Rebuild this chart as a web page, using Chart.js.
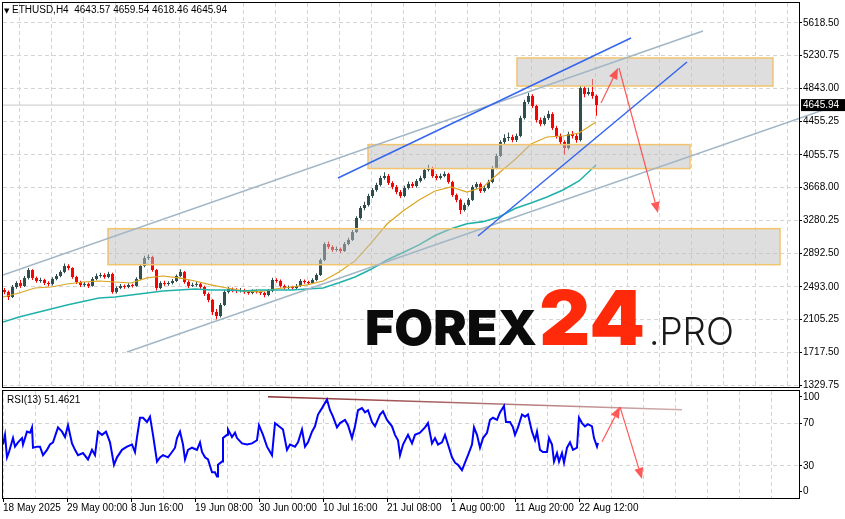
<!DOCTYPE html>
<html>
<head>
<meta charset="utf-8">
<script src="https://cdn.jsdelivr.net/npm/chart.js@4.4.1/dist/chart.umd.min.js"></script>
<style>
  html, body { margin: 0; padding: 0; background: #fff; }
  #wrap { position: relative; width: 845px; height: 519px; overflow: hidden; background: #fff; }
  canvas { position: absolute; left: 0; }
  #main { top: 0; }
  #rsi { top: 388px; }
</style>
</head>
<body>
<div id="wrap">
  <canvas id="main" width="845" height="388"></canvas>
  <canvas id="rsi" width="845" height="131"></canvas>
</div>
<script>
// ETHUSD H4, one candle here = 4 H4 bars, x axis = bar number (1 px per bar)
const firstOpen = 2455;
const closes = [
  2432,2372,2491,2538,2503,2598,2692,2598,2562,2574,
  2538,2526,2586,2621,2669,2740,2716,2609,2550,2515,
  2526,2503,2586,2621,2633,2609,2645,2432,2479,2503,
  2491,2515,2503,2586,2740,2834,2846,2692,2479,2538,
  2526,2538,2562,2621,2669,2550,2503,2515,2526,2491,
  2408,2337,2195,2147,2278,2432,2467,2455,2444,2455,
  2432,2420,2444,2432,2420,2396,2444,2574,2562,2503,
  2479,2491,2479,2503,2562,2550,2538,2574,2633,2811,
  3000,2965,2929,2941,2917,3000,3048,3142,3308,3427,
  3462,3569,3640,3699,3782,3806,3723,3676,3616,3569,
  3664,3711,3687,3747,3782,3877,3901,3806,3782,3806,
  3830,3735,3581,3522,3403,3462,3522,3676,3711,3628,
  3664,3735,3901,4043,4209,4256,4268,4232,4280,4493,
  4683,4754,4635,4469,4422,4493,4540,4375,4280,4209,
  4138,4303,4280,4232,4848,4777,4801,4754,4645.94
];
const highs = [
  2480,2450,2515,2560,2575,2620,2716,2700,2615,2600,
  2590,2560,2605,2645,2690,2770,2760,2725,2625,2565,
  2550,2545,2610,2650,2660,2655,2670,2660,2500,2525,
  2520,2535,2530,2605,2760,2860,2880,2860,2705,2560,
  2565,2560,2585,2640,2700,2680,2570,2540,2550,2545,
  2505,2425,2350,2230,2300,2455,2490,2485,2475,2480,
  2470,2450,2465,2460,2450,2435,2465,2600,2595,2580,
  2520,2510,2505,2525,2585,2580,2565,2595,2655,2830,
  3020,3030,2985,2970,2960,3025,3075,3165,3330,3450,
  3500,3595,3665,3725,3810,3850,3830,3745,3700,3640,
  3690,3740,3735,3770,3810,3900,3940,3915,3830,3835,
  3860,3845,3750,3600,3540,3490,3545,3700,3735,3730,
  3690,3760,3925,4070,4230,4300,4320,4295,4310,4520,
  4710,4790,4775,4650,4500,4520,4580,4560,4400,4310,
  4230,4330,4340,4305,4880,4870,4850,4956,4770
];
const lows = [
  2405,2337,2360,2470,2480,2490,2580,2575,2540,2540,
  2515,2500,2510,2570,2605,2655,2690,2590,2525,2490,
  2495,2480,2495,2570,2600,2590,2595,2410,2415,2465,
  2470,2475,2485,2495,2575,2725,2810,2670,2450,2465,
  2505,2505,2520,2550,2605,2530,2480,2490,2495,2470,
  2385,2310,2160,2110,2130,2265,2415,2430,2420,2425,
  2410,2400,2405,2415,2395,2370,2380,2430,2540,2485,
  2460,2465,2460,2465,2490,2530,2515,2525,2560,2620,
  2795,2940,2905,2910,2895,2905,2985,3035,3130,3290,
  3400,3445,3545,3620,3680,3760,3700,3650,3590,3545,
  3555,3645,3665,3670,3730,3765,3860,3785,3755,3765,
  3790,3715,3560,3495,3355,3385,3445,3510,3655,3605,
  3610,3650,3720,3885,4030,4180,4220,4205,4210,4265,
  4475,4660,4610,4440,4395,4405,4470,4350,4250,4180,
  4060,4120,4250,4200,4215,4740,4760,4720,4520
];

const maX = [0,16,32,48,64,80,96,112,128,144,160,176,192,208,224,240,256,272,288,304,
             320,336,352,368,384,400,416,432,448,464,480,496,512,528,544,560,576,593];
const maFast = [2372,2420,2479,2491,2526,2550,2562,2550,2538,2598,2621,2598,2562,2515,2479,2444,2432,2467,2491,2515,
                2562,2669,2800,3010,3237,3391,3522,3628,3676,3616,3676,3841,4002,4185,4268,4280,4315,4446];
const maSlow = [2076,2135,2183,2230,2278,2320,2360,2372,2396,2420,2444,2455,2467,2455,2455,2444,2455,2455,2455,2467,
                2479,2540,2610,2700,2810,2900,2990,3100,3180,3240,3265,3320,3420,3486,3557,3640,3747,3936];

const priceTicks = [5618.50,5230.75,4843.00,4455.25,4055.75,3668.00,3280.25,2892.50,2493.00,2105.25,1717.50,1329.75];
const lastPrice = 4645.94;
const gridBars = [0,32,64,96,128,160,192,224,256,288,320,352,384,416,448,480,512,544,576,608,640,672,704,736,768];
const timeLabels = ['18 May 2025','29 May 00:00','8 Jun 16:00','19 Jun 08:00','30 Jun 00:00',
                    '10 Jul 16:00','21 Jul 08:00','1 Aug 00:00','11 Aug 20:00','22 Aug 12:00'];

// drawn objects, [bar, price] pairs
const zones = [[514, 770, 4872, 5204], [365, 687, 3894, 4178], [105, 777, 2755, 3182]];
const grayUpper = [[0, 2633], [700, 5524]];
const grayLower = [[124, 1721], [842, 4678]];
const blueUpper = [[335, 3782], [628, 5441]];
const blueLower = [[475, 3095], [684, 5156]];
const arrowsMain = [[598, 4671, 615, 5085], [616, 5085, 655, 3368]];

// RSI(13)
const rsiX = [0,2,4,6,10,12,15,19,20,24,27,29,30,34,37,40,44,47,50,55,59,62,65,69,72,75,80,85,89,92,95,99,103,107,111,114,
  119,124,129,132,134,137,140,144,147,150,154,157,160,165,169,172,174,177,180,182,185,189,194,197,199,202,205,209,212,214,
  215,219,220,224,225,229,232,234,239,244,249,254,256,260,264,269,272,276,280,284,287,292,295,299,302,305,309,312,315,319,
  324,327,330,334,337,342,345,349,352,355,359,362,365,369,372,377,380,384,389,392,395,397,400,405,409,412,417,422,425,429,
  432,435,439,442,445,449,452,455,459,462,465,469,471,474,477,480,484,487,490,494,497,501,503,507,510,512,515,519,522,525,
  529,532,534,537,540,544,546,549,551,554,556,559,561,564,567,570,574,576,579,582,585,589,591,594,595];
const rsiV = [50,59,38,43,56,48,52,56,50,62,61,66,47,48,48,40,45,50,52,66,62,57,68,51,45,40,42,36,45,40,62,59,62,52,31,38,
  45,48,50,43,57,75,75,71,76,59,34,38,40,38,43,47,56,62,50,36,45,47,45,52,43,38,36,24,24,20,
  31,34,56,59,64,57,61,56,51,50,51,54,68,59,48,40,70,67,64,45,50,48,52,64,48,52,62,67,78,84,
  92,82,76,66,70,73,68,56,67,82,84,80,82,71,67,78,81,73,67,59,54,40,50,59,51,59,61,66,70,51,
  56,50,52,59,50,38,33,31,26,33,40,50,66,59,47,56,61,73,75,73,80,86,71,71,66,59,66,78,76,78,
  62,54,62,45,43,43,56,50,34,42,34,42,33,47,52,45,47,75,70,67,69,67,56,48,51.46];
const rsiTicks = [94.4, 70, 30, 6.5];
const rsiTickText = ['100', '70', '30', '0'];
const rsiTrend = [[265, 94.6], [679, 82.4]];
const arrowsRsi = [[599, 52.5, 617, 85.2], [617, 85.2, 639, 17.8]];

const UP = '#2f4f4f', DOWN = '#ff0000', GRID = '#d4d4d4', ARROW = 'rgba(255,70,70,0.9)';
Chart.defaults.font.family = '"Liberation Sans", Arial, sans-serif';
Chart.defaults.font.size = 10;
Chart.defaults.color = '#000';

const opens = closes.map((c, i) => i ? closes[i - 1] : firstOpen);
const candleX = closes.map((c, i) => 4 * i + 1.5);
const candleColor = closes.map((c, i) => c >= opens[i] ? UP : DOWN);
const pts = arr => arr.map(p => ({x: p[0], y: p[1]}));

const frame = {
  id: 'frame',
  afterDraw(chart) {
    const {ctx, chartArea: a} = chart;
    ctx.save();
    ctx.strokeStyle = '#000';
    ctx.lineWidth = 1;
    ctx.strokeRect(a.left - 0.5, a.top - 0.5, a.right - a.left + 1, a.bottom - a.top + 1);
    ctx.restore();
  }
};

function arrows(list) {
  return {
    id: 'arrows',
    afterDatasetsDraw(chart) {
      const {ctx, scales: {x, y}} = chart;
      ctx.save();
      ctx.strokeStyle = ARROW;
      ctx.fillStyle = ARROW;
      ctx.lineWidth = 1.2;
      list.forEach(([x0, y0, x1, y1]) => {
        const ax = x.getPixelForValue(x0), ay = y.getPixelForValue(y0);
        const bx = x.getPixelForValue(x1), by = y.getPixelForValue(y1);
        const ang = Math.atan2(by - ay, bx - ax);
        const hx = bx - 11 * Math.cos(ang), hy = by - 11 * Math.sin(ang);
        ctx.beginPath(); ctx.moveTo(ax, ay); ctx.lineTo(hx, hy); ctx.stroke();
        ctx.beginPath();
        ctx.moveTo(bx, by);
        ctx.lineTo(hx + 4.5 * Math.sin(ang), hy - 4.5 * Math.cos(ang));
        ctx.lineTo(hx - 4.5 * Math.sin(ang), hy + 4.5 * Math.cos(ang));
        ctx.closePath();
        ctx.fill();
      });
      ctx.restore();
    }
  };
}

const zonePlugin = {
  id: 'zones',
  afterDatasetDraw(chart, args) {
    if (chart.data.datasets[args.index].label !== 'MA slow') return;
    const {ctx, scales: {x, y}} = chart;
    ctx.save();
    zones.forEach(([b0, b1, p0, p1]) => {
      const l = x.getPixelForValue(b0), r = x.getPixelForValue(b1);
      const t = y.getPixelForValue(p1), b = y.getPixelForValue(p0);
      ctx.fillStyle = 'rgba(190,190,190,0.5)';
      ctx.fillRect(l, t, r - l, b - t);
      ctx.strokeStyle = '#f2c46e';
      ctx.lineWidth = 1.5;
      ctx.strokeRect(l, t, r - l, b - t);
    });
    ctx.restore();
  }
};

function stretchedText(ctx, text, font, color, x, base, width) {
  ctx.font = font;
  ctx.fillStyle = color;
  const w = ctx.measureText(text).width;
  ctx.save();
  ctx.translate(x, base);
  ctx.scale(width / w, 1);
  ctx.fillText(text, 0, 0);
  ctx.restore();
}

const mainText = {
  id: 'mainText',
  beforeDatasetsDraw(chart) {
    const ctx = chart.ctx;
    ctx.save();
    ctx.textBaseline = 'alphabetic';
    stretchedText(ctx, 'FOREX', '900 48px Inter', '#0b0b0b', 365, 345, 172);
    stretchedText(ctx, '24', '900 76px Inter', '#ff2a0a', 539, 345, 106);
    stretchedText(ctx, '.PRO', '300 38px Inter', '#1a1a1a', 649, 345, 85);
    ctx.restore();
  },
  afterDraw(chart) {
    const {ctx, chartArea: a, scales: {y}} = chart;
    ctx.save();
    ctx.fillStyle = '#000';
    ctx.textBaseline = 'middle';
    ctx.font = '7px "DejaVu Sans"';
    ctx.fillText('▼', a.left + 1, 11);
    ctx.font = '10px "Liberation Sans"';
    ctx.fillText('ETHUSD,H4  4643.57 4659.54 4618.46 4645.94', a.left + 9, 10);
    const py = y.getPixelForValue(lastPrice);
    ctx.fillRect(a.right + 2, py - 6, 44, 12);
    ctx.fillStyle = '#fff';
    ctx.fillText(lastPrice.toFixed(2), a.right + 4, py + 0.5);
    ctx.restore();
  }
};

const line = (label, data, color, width, order, extra) => Object.assign({
  type: 'line', label, data, borderColor: color, borderWidth: width,
  pointRadius: 0, tension: 0, order
}, extra || {});

new Chart(document.getElementById('main'), {
  type: 'bar',
  data: {
    datasets: [
      line('bid', [{x: 0, y: lastPrice}, {x: 796, y: lastPrice}], '#c8c8c8', 1, 10),
      { type: 'bar', label: 'wicks', order: 9,
        data: candleX.map((x, i) => ({x, y: [lows[i], highs[i]]})),
        backgroundColor: candleColor, barThickness: 1, maxBarThickness: 1,
        grouped: false, inflateAmount: 0, borderWidth: 0 },
      { type: 'bar', label: 'bodies', order: 8,
        data: candleX.map((x, i) => ({x, y: [opens[i], closes[i]]})),
        backgroundColor: candleColor, barThickness: 3, maxBarThickness: 3, minBarLength: 1,
        grouped: false, inflateAmount: 0, borderWidth: 0 },
      line('MA fast', maX.map((x, i) => ({x, y: maFast[i]})), '#daa520', 1.2, 7),
      line('MA slow', maX.map((x, i) => ({x, y: maSlow[i]})), '#20b2aa', 1.6, 6),
      line('channel top', pts(grayUpper), '#a2b6c6', 1.5, 5),
      line('channel bottom', pts(grayLower), '#a2b6c6', 1.5, 4, {clip: {left: 0, top: 0, right: 46, bottom: 0}}),
      line('blue top', pts(blueUpper), '#3566ee', 1.5, 3),
      line('blue bottom', pts(blueLower), '#3566ee', 1.5, 2)
    ]
  },
  options: {
    responsive: false, animation: false, events: [], devicePixelRatio: 1,
    layout: {padding: {left: 3, top: 3, right: 0, bottom: 1}},
    plugins: {legend: {display: false}, tooltip: {enabled: false}},
    scales: {
      x: {
        type: 'linear', min: 0, max: 796, offset: false,
        afterBuildTicks: s => { s.ticks = gridBars.map(v => ({value: v})); },
        ticks: {display: false},
        grid: {color: GRID, drawTicks: false},
        border: {display: false, dash: [4, 3]},
        afterFit: s => { s.height = 0; s.paddingLeft = 0; s.paddingRight = 0; }
      },
      y: {
        type: 'linear', position: 'right', min: 1306.06, max: 5855.44,
        afterBuildTicks: s => { s.ticks = priceTicks.map(v => ({value: v})); },
        ticks: {padding: 1, callback: v => Number(v).toFixed(2)},
        grid: {color: GRID, tickColor: '#000', tickLength: 3, tickBorderDash: []},
        border: {display: false, dash: [4, 3]},
        afterFit: s => { s.width = 46; s.paddingTop = 0; s.paddingBottom = 0; }
      }
    }
  },
  plugins: [zonePlugin, mainText, arrows(arrowsMain), frame]
});

const rsiText = {
  id: 'rsiText',
  afterDraw(chart) {
    const {ctx, chartArea: a} = chart;
    ctx.save();
    ctx.fillStyle = '#000';
    ctx.textBaseline = 'middle';
    ctx.font = '10px "Liberation Sans"';
    ctx.fillText('RSI(13) 51.4621', a.left + 4, a.top + 9);
    ctx.restore();
  }
};

new Chart(document.getElementById('rsi'), {
  type: 'line',
  data: {
    datasets: [
      line('RSI trend', pts(rsiTrend), c => {
        const ch = c.chart, x = ch.scales.x;
        if (!ch.chartArea || !x) return '#8b3030';
        const g = ch.ctx.createLinearGradient(x.getPixelForValue(rsiTrend[0][0]), 0, x.getPixelForValue(rsiTrend[1][0]), 0);
        g.addColorStop(0, '#8b2e2e');
        g.addColorStop(1, '#d2aeae');
        return g;
      }, 1.5, 2),
      line('RSI(13)', rsiX.map((x, i) => ({x, y: rsiV[i]})), '#0000ff', 2, 1)
    ]
  },
  options: {
    responsive: false, animation: false, events: [], devicePixelRatio: 1,
    layout: {padding: {left: 3, top: 3, right: 0, bottom: 0}},
    plugins: {legend: {display: false}, tooltip: {enabled: false}},
    scales: {
      x: {
        type: 'linear', min: 0, max: 796,
        afterBuildTicks: s => { s.ticks = gridBars.map(v => ({value: v})); },
        ticks: {autoSkip: false, maxRotation: 0, align: 'start', padding: 0,
                callback: v => (v % 64 === 0 && timeLabels[v / 64]) || ''},
        grid: {color: GRID, tickLength: 4, tickBorderDash: [],
               tickColor: c => (c.tick && c.tick.value % 64 === 0 && timeLabels[c.tick.value / 64]) ? '#000' : 'rgba(0,0,0,0)'},
        border: {display: false, dash: [4, 3]},
        afterFit: s => { s.height = 21; s.paddingLeft = 0; s.paddingRight = 0; }
      },
      y: {
        type: 'linear', position: 'right', min: 0, max: 100,
        afterBuildTicks: s => { s.ticks = rsiTicks.map(v => ({value: v})); },
        ticks: {padding: 1, callback: (v, i) => rsiTickText[i]},
        grid: {color: c => (c.tick && (c.tick.value === 30 || c.tick.value === 70)) ? GRID : 'rgba(0,0,0,0)',
               tickColor: '#000', tickLength: 3, tickBorderDash: []},
        border: {display: false, dash: [4, 3]},
        afterFit: s => { s.width = 46; s.paddingTop = 0; s.paddingBottom = 0; }
      }
    }
  },
  plugins: [rsiText, arrows(arrowsRsi), frame]
});
</script>
</body>
</html>
